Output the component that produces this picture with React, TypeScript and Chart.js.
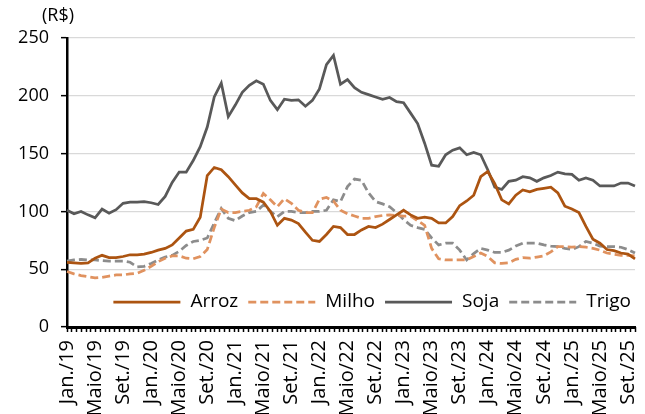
import React, { useEffect, useRef } from 'react';
import { Chart, registerables } from 'chart.js';

Chart.register(...registerables);

const FONT = '"Open Sans", "Noto Sans", sans-serif';

const MONTHS = ['Jan.', 'Fev.', 'Mar.', 'Abr.', 'Maio', 'Jun.', 'Jul.', 'Ago.', 'Set.', 'Out.', 'Nov.', 'Dez.'];
const YEARS = ['19', '20', '21', '22', '23', '24', '25'];
const LAST_MONTH_2025 = 10; // série termina em Out./25

const CATEGORIES: string[] = [];
YEARS.forEach((yy) => {
  MONTHS.forEach((m, k) => {
    if (yy === '25' && k >= LAST_MONTH_2025) return;
    CATEGORIES.push(`${m}/${yy}`);
  });
});

const TICK_LABELS = [
  'Jan./19', 'Maio/19', 'Set./19', 'Jan./20', 'Maio/20', 'Set./20', 'Jan./21',
  'Maio/21', 'Set./21', 'Jan./22', 'Maio/22', 'Set./22', 'Jan./23', 'Maio/23',
  'Set./23', 'Jan./24', 'Maio/24', 'Set./24', 'Jan./25', 'Maio/25', 'Set./25',
];

const Y_TICKS = [0, 50, 100, 150, 200, 250];

const ARROZ = [
  56, 55.5, 55, 55.5, 59.5, 62, 60, 60, 61, 62.5, 62.5, 63,
  64.5, 66.5, 68, 71, 77, 83, 84.5, 95, 131, 138, 136, 130,
  123, 116, 111, 111, 108, 100, 88, 94, 92.5, 89.5, 82, 75,
  74, 80, 87, 86, 80, 80, 84, 87, 86, 89, 93, 97,
  101, 97, 94, 95, 94, 90, 90, 95.5, 105, 109, 114, 130,
  134.5, 124, 110, 106.5, 114, 118.5, 117, 119, 120, 121, 116, 104.5,
  102, 99, 87, 76, 72.5, 67, 66, 64, 63, 59,
];

const MILHO = [
  48, 46, 44.5, 43.5, 42.5, 43, 44, 45, 45, 46, 46.5, 49,
  52.5, 56.5, 59.5, 61.5, 61.5, 59.5, 59, 61, 67, 86, 102, 99,
  99, 100, 101, 104, 115.5, 110, 104, 111, 107, 101, 99, 99,
  110.5, 112, 109, 101, 98, 96, 94, 94, 95.5, 96.5, 97, 96.5,
  96, 96, 92, 88, 68, 59, 58, 58, 58, 58, 61, 64,
  61, 55.5, 55, 55.5, 58.5, 60, 59.5, 60.5, 61.5, 65, 69.5, 69.5,
  69, 69.5, 69, 68, 66.5, 64, 63, 62, 62, 61.5,
];

const SOJA = [
  101, 98, 100, 97, 94.5, 102, 98.5, 101.5, 107, 108, 108, 108.5,
  107.5, 106, 113, 125, 134, 134, 144, 156, 173, 199, 211, 182,
  192, 203, 209, 213, 210, 196, 188, 197, 196, 196.5, 191, 196,
  206, 227, 235, 210, 214, 207, 203, 201, 199, 197, 198.5, 195,
  194, 185, 176, 159, 140, 139, 149, 153, 155, 149, 151, 149,
  136, 121, 119, 126, 127, 130, 129, 126, 129, 131, 134, 132.5,
  132, 127, 129, 127, 122, 122, 122, 124.5, 124.5, 122,
];

const TRIGO = [
  57, 58, 58.5, 58, 58, 57.5, 57, 57, 57, 56, 52, 52.5,
  55, 58, 60.5, 62, 65.5, 70.5, 74, 75, 77, 90, 102.5, 94,
  92, 96, 99, 100, 105.5, 100, 95.5, 100, 100, 99, 99, 100,
  100, 101, 110, 108.5, 121.5, 128, 127, 116, 108.5, 106.5, 104, 99,
  93, 88, 86, 84.5, 77, 71, 72.5, 72.5, 66.5, 58, 63.5, 68,
  66.5, 64.5, 64.5, 66.5, 70, 72.5, 72.5, 72.5, 71, 70, 69.5, 68,
  67, 69.5, 74, 72.5, 70, 69.5, 69.5, 69, 67, 64,
];

const SERIES_NAMES = ['Arroz', 'Milho', 'Soja', 'Trigo'];
const SERIES_COLORS = ['#AC5411', '#E0925F', '#595959', '#8C8C8C'];
const SERIES_DASH: number[][] = [[], [8, 4], [], [8, 4]];
const SERIES_DATA = [ARROZ, MILHO, SOJA, TRIGO];

const unitLabelPlugin = {
  id: 'unitLabel',
  afterDraw(chart: any) {
    const { ctx, chartArea } = chart;
    ctx.save();
    ctx.font = `18px ${FONT}`;
    ctx.fillStyle = '#000';
    ctx.textAlign = 'center';
    ctx.textBaseline = 'middle';
    ctx.fillText('(R$)', chartArea.left - 9, 16);
    ctx.restore();
  },
};

const insideLegendPlugin = {
  id: 'insideLegend',
  afterDraw(chart: any) {
    const { ctx, chartArea } = chart;
    const datasets = chart.data.datasets;
    const lineLen = 67;
    const gapText = 10;
    const gapItem = 10;
    ctx.save();
    ctx.font = `19px ${FONT}`;
    const widths = datasets.map((d: any) => ctx.measureText(d.label).width);
    let total = 0;
    widths.forEach((w: number, i: number) => {
      total += lineLen + gapText + w + (i < widths.length - 1 ? gapItem : 0);
    });
    let x = chartArea.right - 4 - total;
    const y = chartArea.bottom - 25;
    datasets.forEach((d: any, i: number) => {
      ctx.beginPath();
      ctx.setLineDash(d.borderDash || []);
      ctx.strokeStyle = d.borderColor;
      ctx.lineWidth = d.borderWidth;
      ctx.moveTo(x, y);
      ctx.lineTo(x + lineLen, y);
      ctx.stroke();
      ctx.setLineDash([]);
      x += lineLen + gapText;
      ctx.fillStyle = '#000';
      ctx.textAlign = 'left';
      ctx.textBaseline = 'middle';
      ctx.fillText(d.label, x, y);
      x += widths[i] + gapItem;
    });
    ctx.restore();
  },
};

export default function App() {
  const canvasRef = useRef<HTMLCanvasElement | null>(null);

  useEffect(() => {
    if (!canvasRef.current) return;
    const chart = new Chart(canvasRef.current, {
      type: 'line',
      data: {
        labels: CATEGORIES,
        datasets: SERIES_NAMES.map((name, i) => ({
          label: name,
          data: SERIES_DATA[i],
          borderColor: SERIES_COLORS[i],
          backgroundColor: SERIES_COLORS[i],
          borderDash: SERIES_DASH[i],
          borderWidth: 2.75,
          pointRadius: 0,
          tension: 0,
          fill: false,
          xAxisID: 'x',
          yAxisID: 'y',
        })),
      },
      options: {
        responsive: false,
        animation: false,
        events: [],
        layout: { padding: { top: 38, right: 10, left: 0, bottom: 0 } },
        plugins: {
          legend: { display: false },
          tooltip: { enabled: false },
          title: { display: false },
        },
        scales: {
          x: {
            type: 'category',
            position: 'bottom',
            weight: 1,
            offset: false,
            grid: { display: true, drawOnChartArea: false, drawTicks: false },
            border: { display: true, color: '#000', width: 3 },
            ticks: {
              autoSkip: false,
              minRotation: 90,
              maxRotation: 90,
              padding: 13,
              color: '#000',
              font: { family: FONT, size: 20 },
              callback: function (this: any, value: any) {
                const lab = this.getLabelForValue(value);
                return TICK_LABELS.includes(lab) ? lab : '';
              },
            },
            afterFit: (scale: any) => {
              scale.height = 87;
              scale.paddingLeft = 0;
              scale.paddingRight = 0;
            },
          },
          xm: {
            type: 'linear',
            position: 'bottom',
            weight: 0,
            min: 0,
            max: CATEGORIES.length - 1,
            grid: {
              display: true,
              drawOnChartArea: false,
              drawTicks: true,
              tickLength: 5,
              tickColor: '#000',
              tickWidth: 1.5,
            },
            border: { display: false },
            ticks: { display: false, stepSize: (CATEGORIES.length - 1) / 119 },
            afterFit: (scale: any) => {
              scale.height = 0;
              scale.paddingLeft = 0;
              scale.paddingRight = 0;
            },
          },
          y: {
            type: 'linear',
            min: Y_TICKS[0],
            max: Y_TICKS[Y_TICKS.length - 1],
            grid: {
              color: '#D9D9D9',
              lineWidth: 1.3,
              drawTicks: true,
              tickLength: 6,
              tickColor: '#000',
              tickWidth: 1.5,
            },
            border: { display: true, color: '#000', width: 2.5 },
            ticks: {
              stepSize: 50,
              padding: 12,
              color: '#000',
              font: { family: FONT, size: 18 },
            },
            afterFit: (scale: any) => {
              scale.width = 67;
            },
          },
        },
      },
      plugins: [unitLabelPlugin, insideLegendPlugin],
    } as any);
    return () => chart.destroy();
  }, []);

  return (
    <div
      style={{
        position: 'fixed',
        left: 0,
        top: 0,
        width: 645,
        height: 414,
        background: '#fff',
        overflow: 'hidden',
      }}
    >
      <canvas ref={canvasRef} width={645} height={414} style={{ display: 'block' }} />
    </div>
  );
}
